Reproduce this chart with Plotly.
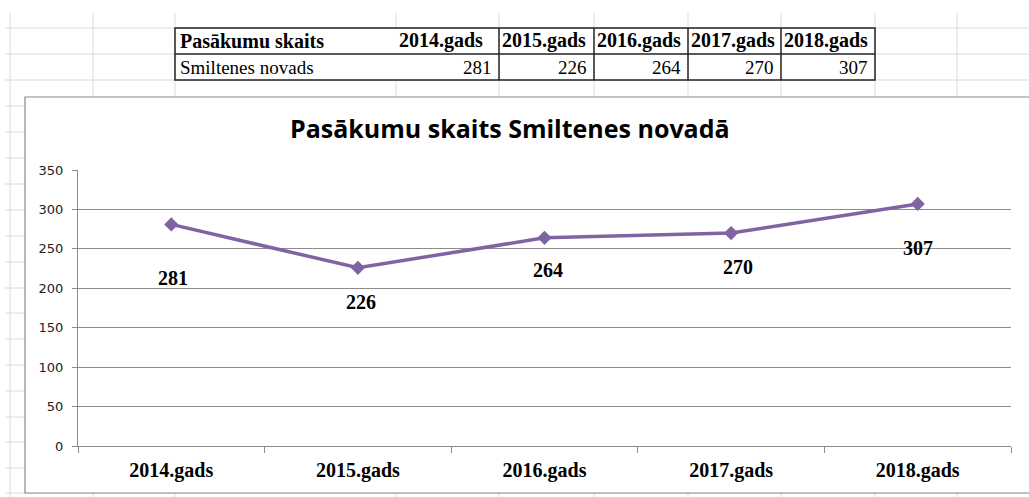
import plotly.graph_objects as go

W, H = 1029, 497

# data
years = ["2014.gads", "2015.gads", "2016.gads", "2017.gads", "2018.gads"]
events = [281, 226, 264, 270, 307]
row_label = "Smiltenes novads"
header_label = "Pasākumu skaits"
title_text = "Pasākumu skaits Smiltenes novadā"
y_ticks = [0, 50, 100, 150, 200, 250, 300, 350]

# label offsets (px) for the data labels, as placed in the original sheet
label_dy = [-54, -34, -32, -34, -44]
label_dx = [2, 3, 3, 7, 0]

PURPLE = "#8064A2"
GRID_SHEET = "#dadada"
AXIS_GRAY = "#8c8c8c"


def px_x(v):
    return v / W


def px_y(v):
    return 1 - v / H


shapes = []

# spreadsheet grid in the background
col_lines = [10, 93, 175, 396, 499, 594, 688, 781, 875, 957]
row_lines = [28, 54, 80, 106, 132, 158, 184, 210, 236, 262, 288, 313,
             339, 365, 391, 417, 442, 468, 493]
for cx in col_lines:
    shapes.append(dict(type="line", xref="paper", yref="paper",
                       x0=px_x(cx), x1=px_x(cx), y0=px_y(13), y1=px_y(H),
                       line=dict(color=GRID_SHEET, width=1), layer="below"))
for ry in row_lines:
    shapes.append(dict(type="line", xref="paper", yref="paper",
                       x0=px_x(5), x1=1, y0=px_y(ry), y1=px_y(ry),
                       line=dict(color=GRID_SHEET, width=1), layer="below"))

# table on the sheet
tab_left, tab_right = 175, 875
tab_top, tab_mid, tab_bot = 28, 54, 80
col_edges = [175, 396, 499, 594, 688, 781, 875]
shapes.append(dict(type="rect", xref="paper", yref="paper",
                   x0=px_x(tab_left), x1=px_x(tab_right), y0=px_y(tab_top), y1=px_y(tab_bot),
                   fillcolor="white", line=dict(color="#222", width=1.5), layer="below"))
shapes.append(dict(type="line", xref="paper", yref="paper",
                   x0=px_x(tab_left), x1=px_x(tab_right), y0=px_y(tab_mid), y1=px_y(tab_mid),
                   line=dict(color="#222", width=1.5), layer="below"))
for ex in col_edges[2:-1]:
    shapes.append(dict(type="line", xref="paper", yref="paper",
                       x0=px_x(ex), x1=px_x(ex), y0=px_y(tab_top), y1=px_y(tab_bot),
                       line=dict(color="#222", width=1.5), layer="below"))

# chart frame
shapes.append(dict(type="rect", xref="paper", yref="paper",
                   x0=px_x(25), x1=px_x(1045), y0=px_y(97), y1=px_y(493),
                   fillcolor="white", line=dict(color="#8a8a8a", width=1.2), layer="below"))

annotations = []
serif = "Liberation Serif, Times New Roman, serif"
annotations.append(dict(xref="paper", yref="paper", x=px_x(178), y=px_y(41),
                        text="<b>" + header_label + "</b>", showarrow=False,
                        xanchor="left", yanchor="middle",
                        font=dict(family=serif, size=20, color="black")))
annotations.append(dict(xref="paper", yref="paper", x=px_x(178), y=px_y(67),
                        text=row_label, showarrow=False,
                        xanchor="left", yanchor="middle",
                        font=dict(family=serif, size=19, color="black")))
for i, (yr, val) in enumerate(zip(years, events)):
    left, right = col_edges[i + 1], col_edges[i + 2]
    annotations.append(dict(xref="paper", yref="paper", x=px_x(left + 1), y=px_y(41),
                            text="<b>" + yr + "</b>", showarrow=False,
                            xanchor="left", yanchor="middle",
                            font=dict(family=serif, size=20, color="black")))
    annotations.append(dict(xref="paper", yref="paper", x=px_x(right - 5), y=px_y(67),
                            text=str(val), showarrow=False,
                            xanchor="right", yanchor="middle",
                            font=dict(family=serif, size=19, color="black")))

# data labels
for i, (yr, val) in enumerate(zip(years, events)):
    annotations.append(dict(x=yr, y=val, xref="x", yref="y", text="<b>%d</b>" % val,
                            showarrow=False, xshift=label_dx[i], yshift=label_dy[i],
                            font=dict(family=serif, size=20, color="black")))

# chart title
annotations.append(dict(xref="paper", yref="paper", x=px_x(510), y=px_y(128),
                        text="<b>" + title_text + "</b>", showarrow=False,
                        xanchor="center", yanchor="middle",
                        font=dict(family="Open Sans, sans-serif", size=25, color="black")))

fig = go.Figure()
fig.add_trace(go.Scatter(
    x=years, y=events, mode="lines+markers",
    line=dict(color=PURPLE, width=3.5),
    marker=dict(symbol="diamond", size=11, color=PURPLE),
    hoverinfo="x+y", showlegend=False,
))

fig.update_layout(
    width=W, height=H,
    margin=dict(l=0, r=0, t=0, b=0, pad=0),
    paper_bgcolor="white",
    plot_bgcolor="rgba(0,0,0,0)",
    shapes=shapes,
    annotations=annotations,
    xaxis=dict(
        domain=[px_x(78), px_x(1011)],
        type="category", range=[-0.5, 4.5],
        showgrid=False, showline=True, linecolor=AXIS_GRAY, linewidth=1,
        ticks="outside", tickson="boundaries", ticklen=6, tickcolor=AXIS_GRAY,
        tickfont=dict(family=serif, size=20, color="black"),
        tickprefix="<b>", ticksuffix="</b>",
        ticklabelstandoff=6,
        zeroline=False, automargin=False,
    ),
    yaxis=dict(
        domain=[px_y(446), px_y(170)],
        range=[0, 350], tickvals=y_ticks,
        showgrid=True, gridcolor=AXIS_GRAY, gridwidth=1,
        showline=True, linecolor=AXIS_GRAY, linewidth=1,
        ticks="outside", ticklen=5, tickcolor=AXIS_GRAY,
        tickfont=dict(family="DejaVu Sans, sans-serif", size=13, color="#222"),
        ticklabelstandoff=6,
        zeroline=False, automargin=False,
    ),
)

fig.write_html("out.html", config={"displayModeBar": False},
               post_script="document.body.style.margin='0';")
